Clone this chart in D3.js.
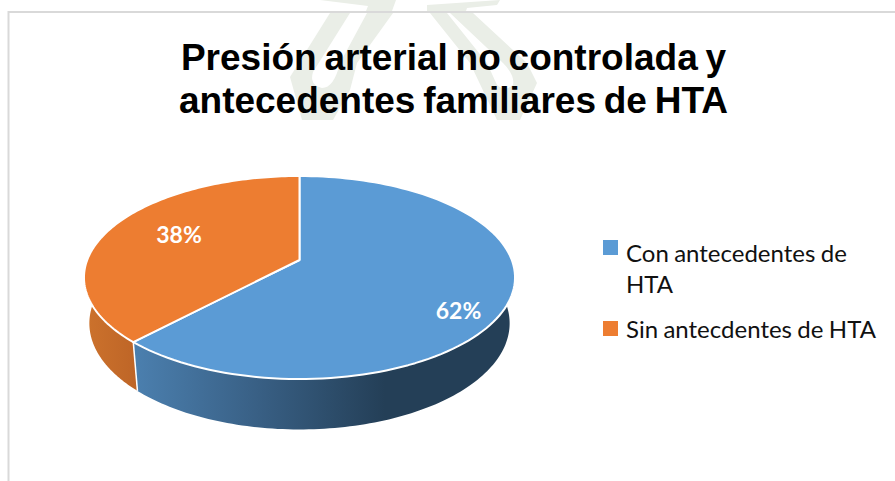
<!DOCTYPE html>
<html><head><meta charset="utf-8">
<script src="https://cdn.jsdelivr.net/npm/d3@7/dist/d3.min.js"></script>
<style>html,body{margin:0;padding:0;background:#fff}svg{display:block}</style>
</head><body><svg id="c" width="895" height="481"></svg>
<script>
const categories = ["Con antecedentes de HTA", "Sin antecdentes de HTA"];
const values = [62, 38];
const labels = ["62%", "38%"];
const legendLines = [["Con antecedentes de", "HTA"], ["Sin antecdentes de HTA"]];
const titleLines = ["Presión arterial no controlada y", "antecedentes familiares de HTA"];
const colors = ["#5b9bd5", "#ed7d31"];

const svg = d3.select("#c");
const defs = svg.append("defs");
const g0 = defs.append("linearGradient").attr("id","wall0").attr("gradientUnits","userSpaceOnUse")
  .attr("x1",136).attr("x2",385).attr("y1",0).attr("y2",0);
g0.append("stop").attr("offset",0).attr("stop-color","#4b7fae");
g0.append("stop").attr("offset",0.45).attr("stop-color","#3a6288");
g0.append("stop").attr("offset",1).attr("stop-color","#243f57");
const g1 = defs.append("linearGradient").attr("id","wall1").attr("gradientUnits","userSpaceOnUse")
  .attr("x1",86).attr("x2",136).attr("y1",0).attr("y2",0);
g1.append("stop").attr("offset",0).attr("stop-color","#cc722c");
g1.append("stop").attr("offset",1).attr("stop-color","#be6527");

// faint background watermark
const wm = svg.append("g").attr("fill","#eaeee7");
[
 "M330,13 L350,13 L313,72 Q309,85 322,88 Q334,88 340,63 L367,13 L393,13 L357,63 L350,90 L333,120 L302,120 L290,77 Z",
 "M430,13 L447,13 L487,63 L497,85 Q505,92 513,85 Q515,75 503,63 L450,13 L473,13 L527,63 L537,83 L520,120 L497,120 L470,63 Z",
 "M320,0 H396 L392,11 H366 L368,6 Z",
 "M427,11 V5 L500,0 L497,5 L467,8 L466,11 Z"
].forEach(d => wm.append("path").attr("d", d));

// chart frame
svg.append("path").attr("d","M8.5,481 V12 H895").attr("fill","none").attr("stroke","#d9d9d9").attr("stroke-width",2);

// tilted-circle projection of the pie
const cx = 299.5, cy = 260, k = 0.1724, A = 212.3, B = 98.5;
const project = (a, sx, bx, dy) => {
  const u = Math.sin(a), v = -Math.cos(a), w = 1 - k * v;
  return [cx + sx * u / w, cy + dy + bx * v / w];
};
const topRim = a => project(a, A, B, 0);
const botRim = a => project(a, A * 0.975, 103, 45);
const line = d3.line();
const sample = (a0, a1, f) => d3.range(0, 121).map(i => f(a0 + (a1 - a0) * i / 120));

const arcs = d3.pie().sort(null).value(d => d)(values);

// side walls (only the near half of the rim is visible)
const lo = 80 * Math.PI / 180, hi = 280 * Math.PI / 180;
arcs.forEach((s, i) => {
  const a0 = Math.max(s.startAngle, lo), a1 = Math.min(s.endAngle, hi);
  svg.append("path")
    .attr("d", line(sample(a0, a1, topRim).concat(sample(a1, a0, botRim))) + "Z")
    .attr("fill", `url(#wall${i})`);
});
// seam between the two walls
svg.append("path").datum(arcs[0].endAngle)
  .attr("d", a => line([topRim(a), botRim(a)]))
  .attr("stroke","#fff").attr("stroke-width",1.5).attr("fill","none");

// top faces
arcs.forEach((s, i) => {
  svg.append("path")
    .attr("d", line([[cx, cy]].concat(sample(s.startAngle, s.endAngle, topRim))) + "Z")
    .attr("fill", colors[i]).attr("stroke","#fff").attr("stroke-width",2).attr("stroke-linejoin","round");
});

// data labels
const labelPos = [[458.5, 319], [179, 243]];
svg.selectAll("text.lab").data(labels).join("text").attr("class","lab")
  .attr("x",(d,i)=>labelPos[i][0]).attr("y",(d,i)=>labelPos[i][1])
  .attr("text-anchor","middle").attr("fill","#fff")
  .style("font",'bold 23px Lato, "Open Sans", sans-serif').text(d=>d);

// title
svg.selectAll("text.title").data(titleLines).join("text").attr("class","title")
  .attr("x",453.5).attr("y",(d,i)=>[70,113][i]).attr("text-anchor","middle").attr("fill","#000")
  .style("font",'bold 37px "Liberation Sans", Arial, sans-serif').style("word-spacing","-2.5px").text(d=>d);

// legend
const swY = [240, 321], txtY = [[262, 293], [338]];
categories.forEach((c, i) => {
  svg.append("rect").attr("x",603).attr("y",swY[i]).attr("width",15).attr("height",15).attr("fill",colors[i]);
  legendLines[i].forEach((t, j) => {
    svg.append("text").attr("x",626).attr("y",txtY[i][j]).attr("fill","#111")
      .style("font",'24px Lato, sans-serif').style("word-spacing","-0.8px").text(t);
  });
});
</script></body></html>
